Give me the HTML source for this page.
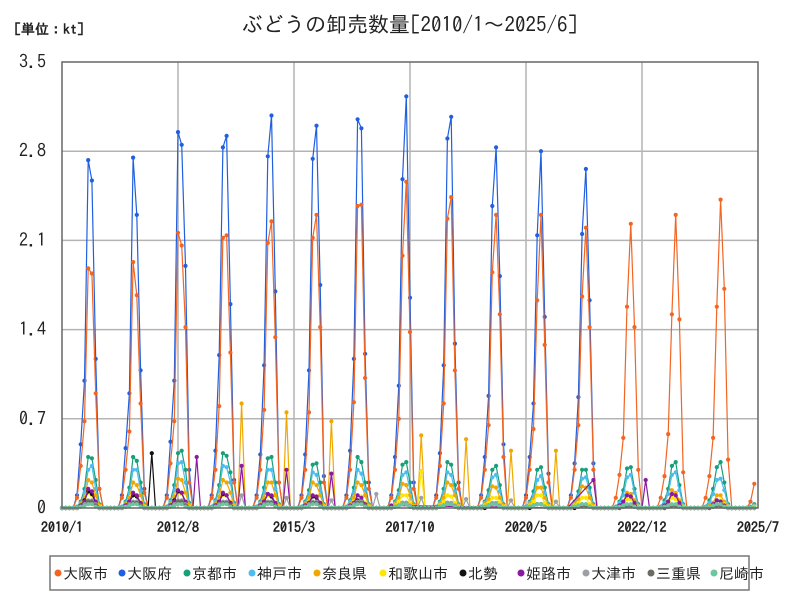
<!DOCTYPE html>
<html><head><meta charset="utf-8">
<style>
body{margin:0;background:#fff;}
svg{display:block;font-family:"IPAGothic","Noto Sans CJK JP",sans-serif;}
</style></head>
<body>
<svg id="chart" width="800" height="600" viewBox="0 0 800 600">
<rect width="800" height="600" fill="#fff"/>
<text x="410" y="32" text-anchor="middle" font-size="21" fill="#222">ぶどうの卸売数量[2010/1～2025/6]</text>
<text x="14" y="34" font-size="14" font-weight="bold" fill="#222">[単位：kt]</text>
<g id="grid"></g>
<g id="series"></g>
<rect x="62" y="62" width="696" height="446" fill="none" stroke="#666" stroke-width="1.5"/>
<g id="legend"></g>
</svg>
<script>
const xTickLabels = ["2010/1","2012/8","2015/3","2017/10","2020/5","2022/12","2025/7"];
const yTickLabels = ["0","0.7","1.4","2.1","2.8","3.5"];
const yTickValues = [0,0.7,1.4,2.1,2.8,3.5];
const seriesNames = ["大阪市","大阪府","京都市","神戸市","奈良県","和歌山市","北勢","姫路市","大津市","三重県","尼崎市"];
const seriesColors = ["#f26522","#1f5fe0","#17a07a","#4dbdf0","#f0a800","#ffe600","#111111","#8b1aa0","#9aa0a6","#6b6b63","#6cc79f"];
// seasonal values May..Nov per year, starting 2010
const osakaShi = [[0.08,0.33,0.68,1.88,1.84,0.9,0.15],[0.08,0.3,0.6,1.93,1.67,0.82,0.12],[0.08,0.35,0.68,2.16,2.06,1.42,0.2],[0.08,0.3,0.8,2.12,2.14,1.22,0.2],[0.08,0.3,0.77,2.08,2.25,1.34,0.2],[0.08,0.3,0.75,2.12,2.3,1.42,0.2],[0.08,0.3,0.83,2.37,2.38,1.02,0.15],[0.08,0.3,0.7,1.98,2.56,1.38,0.15],[0.08,0.33,0.82,2.27,2.44,1.08,0.15],[0.08,0.3,0.65,1.85,2.3,1.52,0.4],[0.08,0.3,0.62,1.63,2.3,1.28,0.2],[0.08,0.3,0.65,1.66,2.2,1.42,0.3],[0.08,0.26,0.55,1.58,2.23,1.42,0.3],[0.08,0.25,0.58,1.52,2.3,1.48,0.28],[0.08,0.25,0.55,1.58,2.42,1.72,0.38],[0.05,0.19]];
const osakaFu = [[0.1,0.5,1.0,2.73,2.57,1.17,0.15],[0.1,0.47,0.9,2.75,2.3,1.08,0.15],[0.1,0.52,1.0,2.95,2.85,1.9,0.3],[0.1,0.45,1.2,2.83,2.92,1.6,0.22],[0.1,0.42,1.12,2.76,3.08,1.7,0.2],[0.1,0.42,1.08,2.74,3.0,1.75,0.25],[0.1,0.45,1.17,3.05,2.98,1.21,0.2],[0.1,0.4,0.96,2.58,3.23,1.65,0.2],[0.1,0.43,1.12,2.9,3.07,1.29,0.2],[0.1,0.4,0.88,2.37,2.83,1.82,0.5],[0.1,0.4,0.82,2.14,2.8,1.5,0.27],[0.1,0.35,0.87,2.15,2.66,1.63,0.35]];
const kyoto = [[0.01,0.05,0.15,0.4,0.39,0.22,0.03],[0.01,0.05,0.16,0.4,0.37,0.2,0.03],[0.01,0.06,0.18,0.43,0.45,0.3,0.04],[0.01,0.06,0.18,0.43,0.41,0.28,0.04],[0.01,0.05,0.16,0.39,0.4,0.2,0.03],[0.01,0.05,0.14,0.34,0.35,0.2,0.03],[0.01,0.06,0.16,0.4,0.36,0.2,0.03],[0.01,0.05,0.14,0.34,0.36,0.2,0.03],[0.01,0.05,0.15,0.36,0.34,0.18,0.03],[0.01,0.05,0.14,0.3,0.33,0.18,0.03],[0.01,0.05,0.13,0.3,0.32,0.16,0.03],[0.01,0.05,0.13,0.3,0.3,0.16,0.03],[0.01,0.05,0.14,0.31,0.32,0.15,0.03],[0.01,0.06,0.15,0.33,0.36,0.18,0.03],[0.01,0.06,0.15,0.32,0.36,0.2,0.03],[0.01,0.03]];
const kobe = [[0.01,0.04,0.12,0.3,0.33,0.15,0.02],[0.01,0.04,0.12,0.3,0.3,0.14,0.02],[0.01,0.05,0.14,0.35,0.36,0.2,0.03],[0.01,0.05,0.14,0.33,0.32,0.2,0.03],[0.01,0.04,0.12,0.3,0.3,0.15,0.02],[0.01,0.04,0.11,0.28,0.26,0.14,0.02],[0.01,0.05,0.12,0.3,0.27,0.14,0.02],[0.01,0.04,0.11,0.26,0.28,0.14,0.02],[0.01,0.04,0.12,0.28,0.26,0.13,0.02],[0.01,0.04,0.1,0.24,0.26,0.13,0.02],[0.01,0.04,0.1,0.22,0.25,0.12,0.02],[0.01,0.04,0.1,0.23,0.24,0.12,0.02],[0.01,0.04,0.1,0.24,0.26,0.12,0.02],[0.01,0.04,0.11,0.26,0.28,0.14,0.02],[0.01,0.04,0.11,0.22,0.23,0.14,0.02],[0.01,0.02]];
const nara = [[0,0.03,0.08,0.22,0.2,0.1,0.02],[0,0.03,0.08,0.2,0.18,0.1,0.02],[0,0.03,0.09,0.23,0.22,0.12,0.02],[0,0.03,0.09,0.22,0.2,0.12,0.02],[0,0.03,0.08,0.2,0.2,0.1,0.02],[0,0.03,0.08,0.2,0.18,0.1,0.02],[0,0.03,0.08,0.2,0.18,0.1,0.02],[0,0.03,0.08,0.19,0.18,0.1,0.02],[0,0.03,0.08,0.2,0.18,0.1,0.02],[0,0.03,0.07,0.17,0.16,0.08,0.02],[0,0.03,0.07,0.16,0.16,0.08,0.02],[0,0.03,0.07,0.17,0.16,0.08,0.02],[0,0.02,0.05,0.12,0.11,0.06,0.01],[0,0.02,0.05,0.14,0.12,0.06,0.01],[0,0.02,0.04,0.1,0.1,0.05,0.01],[0,0.01]];
const naraJan = [0,0,0,0,0.82,0.75,0.68,0,0.57,0.54,0.45,0.45,0,0,0,0];
const wakayama = [[0,0.02,0.06,0.12,0.1,0.05,0.01],[0,0.02,0.05,0.1,0.09,0.04,0.01],[0,0.02,0.06,0.12,0.11,0.05,0.01],[0,0.02,0.05,0.1,0.1,0.05,0.01],[0,0.02,0.05,0.1,0.09,0.04,0.01],[0,0.02,0.05,0.1,0.09,0.04,0.01],[0,0.02,0.05,0.1,0.09,0.04,0.01],[0,0.02,0.05,0.1,0.1,0.04,0.01],[0,0.02,0.05,0.1,0.09,0.04,0.01],[0,0.02,0.04,0.08,0.08,0.04,0.01],[0,0.02,0.05,0.1,0.1,0.04,0.01],[0,0.02,0.04,0.08,0.08,0.03,0.01],[0,0.01,0.04,0.07,0.07,0.03,0.01],[0,0.01,0.04,0.08,0.07,0.03,0.01],[0,0.01,0.03,0.06,0.06,0.03,0.01],[0,0.01]];
const wakayamaJan = [0,0,0,0,0,0,0,0,0.29,0,0,0,0,0,0,0];
const hokusei = [[0,0.02,0.06,0.13,0.11,0.04,0],[0,0.02,0.05,0.1,0.09,0.03,0],[0,0.02,0.06,0.13,0.12,0.04,0],[0,0.02,0.05,0.11,0.1,0.04,0],[0,0.02,0.05,0.11,0.09,0.03,0],[0,0.02,0.04,0.09,0.08,0.03,0],[0,0.01,0.03,0.06,0.05,0.02,0],[0,0.01,0.02,0.04,0.04,0.01,0],[0,0.01,0.02,0.04,0.03,0.01,0],[0,0,0.02,0.03,0.03,0.01,0],[0,0,0.02,0.03,0.03,0.01,0],[0,0,0.01,0.02,0.02,0.01,0],[0,0,0.01,0.02,0.02,0.01,0],[0,0,0.01,0.02,0.02,0.01,0],[0,0,0.01,0.02,0.02,0.01,0],[0,0]];
const hokuseiJan = [0,0,0.43,0,0,0,0,0,0,0,0,0,0,0,0,0];
const himeji = [[0,0.02,0.05,0.15,0.13,0.05,0],[0,0.02,0.05,0.12,0.1,0.04,0],[0,0.02,0.05,0.14,0.12,0.05,0],[0,0.02,0.05,0.12,0.1,0.04,0],[0,0.02,0.05,0.11,0.1,0.04,0],[0,0.02,0.04,0.1,0.09,0.04,0],[0,0.02,0.04,0.1,0.08,0.03,0],[0.02],[],[],[],[null,null,null,null,null,null,0.22],[0,0.02,0.05,0.1,0.09,0.04,0],[0,0.02,0.05,0.11,0.1,0.04,0],[0,0.01,0.03,0.06,0.05,0.02,0],[0,0]];
const himejiJan = [0,0,0,0.4,0.33,0.3,0.27,0,null,null,null,null,0,0.22,0,0];
const otsu = [[0,0.01,0.03,0.06,0.06,0.03,0],[0,0.01,0.03,0.05,0.05,0.02,0],[0,0.01,0.03,0.06,0.06,0.03,0],[0,0.01,0.03,0.05,0.05,0.02,0],[0,0.01,0.03,0.05,0.05,0.02,0],[0,0.01,0.03,0.05,0.05,0.02,0],[0,0.01,0.03,0.05,0.05,0.02,0],[0,0.01,0.02,0.04,0.04,0.02,0],[0,0.01,0.02,0.04,0.04,0.02,0],[0,0.01,0.02,0.04,0.04,0.02,0],[0,0.01,0.02,0.03,0.03,0.01,0],[0,0.01,0.02,0.03,0.03,0.01,0],[0,0,0.01,0.02,0.02,0.01,0],[0,0,0.01,0.02,0.02,0.01,0],[0,0,0.01,0.02,0.02,0.01,0],[0,0]];
const otsuJan = [0,0,0,0,0.1,0.08,0.06,0.11,0.08,0.07,0.06,0.05,0,0,0,0];
const mie = [[0,0.01,0.02,0.05,0.05,0.02,0],[0,0.01,0.02,0.04,0.04,0.02,0],[0,0.01,0.02,0.05,0.05,0.02,0],[0,0.01,0.02,0.04,0.04,0.02,0],[0,0.01,0.02,0.04,0.04,0.02,0],[0,0.01,0.02,0.04,0.04,0.02,0],[0,0.01,0.02,0.04,0.04,0.02,0],[0,0.01,0.02,0.03,0.03,0.01,0],[0,0.01,0.02,0.03,0.03,0.01,0],[0,0.01,0.02,0.03,0.03,0.01,0],[0,0.01,0.02,0.03,0.03,0.01,0],[0,0.01,0.01,0.02,0.02,0.01,0],[0,0,0.01,0.02,0.02,0.01,0],[0,0,0.01,0.02,0.02,0.01,0],[0,0,0.01,0.02,0.02,0.01,0],[0,0]];
const amagasaki = [[0,0.01,0.02,0.03,0.03,0.01,0],[0,0.01,0.02,0.03,0.03,0.01,0],[0,0.01,0.02,0.03,0.03,0.01,0],[0,0.01,0.02,0.03,0.03,0.01,0],[0,0.01,0.02,0.03,0.03,0.01,0],[0,0.01,0.02,0.03,0.03,0.01,0],[0,0.01,0.02,0.03,0.03,0.01,0],[0,0.01,0.02,0.03,0.03,0.01,0],[0,0.01,0.02,0.03,0.03,0.01,0],[0,0.01,0.02,0.03,0.03,0.01,0],[0,0.01,0.02,0.03,0.03,0.01,0],[0,0.01,0.02,0.03,0.03,0.01,0],[0,0.01,0.02,0.03,0.03,0.01,0],[0,0.01,0.02,0.03,0.03,0.01,0],[0,0.01,0.02,0.03,0.03,0.01,0],[0,0]];

const NS = "http://www.w3.org/2000/svg";
const X0 = 62, X1 = 758, Y0 = 508, Y1 = 62, NMONTHS = 186, YMAX = 3.5;
function xScale(i){ return X0 + (X1 - X0) * i / NMONTHS; }
function yScale(v){ return Y0 - (Y0 - Y1) * v / YMAX; }

function buildMonthly(season, janArr, fillBlank){
  const out = [];
  for(let m=0;m<NMONTHS;m++){
    const y = Math.floor(m/12), mo = m%12;
    const yr = season[y];
    if(yr === undefined){ out.push(null); continue; }
    let v = fillBlank;
    if(yr.length === 0) v = null;
    if(mo === 0 && janArr) v = janArr[y];
    if(mo >= 4 && mo - 4 < yr.length) v = yr[mo-4];
    else if(mo >= 4 && yr.length === 1) v = null;
    out.push(v);
  }
  return out;
}

const grid = document.getElementById('grid');
yTickValues.forEach((v,i)=>{
  const y = yScale(v);
  if(v>0 && v<YMAX){
    const l = document.createElementNS(NS,'line');
    l.setAttribute('x1',X0);l.setAttribute('x2',X1);l.setAttribute('y1',y);l.setAttribute('y2',y);
    l.setAttribute('stroke','#b4b4b4');l.setAttribute('stroke-width','1.5');
    
    
    grid.appendChild(l);
  }
  const t = document.createElementNS(NS,'text');
  t.setAttribute('x',46);t.setAttribute('y',y+6);t.setAttribute('text-anchor','end');
  t.setAttribute('font-size','18');t.setAttribute('fill','#222');
  t.textContent = yTickLabels[i];
  
  
  grid.appendChild(t);
});
xTickLabels.forEach((lab,i)=>{
  const x = xScale(i*31);
  if(i>0 && i<xTickLabels.length-1){
    const l = document.createElementNS(NS,'line');
    l.setAttribute('x1',x);l.setAttribute('x2',x);l.setAttribute('y1',Y1);l.setAttribute('y2',Y0);
    l.setAttribute('stroke','#b4b4b4');l.setAttribute('stroke-width','1.5');
    
    
    grid.appendChild(l);
  }
  const t = document.createElementNS(NS,'text');
  t.setAttribute('x',x);t.setAttribute('y',532);t.setAttribute('text-anchor','middle');
  t.setAttribute('font-size','14');t.setAttribute('font-weight','bold');t.setAttribute('fill','#222');
  t.textContent = lab;
  
  
  grid.appendChild(t);
});

const allData = [
  buildMonthly(osakaShi,null,0),
  buildMonthly(osakaFu,null,0),
  buildMonthly(kyoto,null,0),
  buildMonthly(kobe,null,0),
  buildMonthly(nara,naraJan,0),
  buildMonthly(wakayama,wakayamaJan,0),
  buildMonthly(hokusei,hokuseiJan,0),
  buildMonthly(himeji,himejiJan,0),
  buildMonthly(otsu,otsuJan,0),
  buildMonthly(mie,null,0),
  buildMonthly(amagasaki,null,0)
];
const sg = document.getElementById('series');
const drawOrder = [1,0,2,3,4,5,6,7,8,9,10];
drawOrder.forEach(si=>{
  const data = allData[si], col = seriesColors[si];
  const g = document.createElementNS(NS,'g');
  
  
  let d = '';
  data.forEach((v,i)=>{ if(v===null) return; d += (d?'L':'M') + xScale(i).toFixed(1) + ' ' + yScale(v).toFixed(1); });
  const p = document.createElementNS(NS,'path');
  p.setAttribute('d',d);p.setAttribute('fill','none');p.setAttribute('stroke',col);p.setAttribute('stroke-width','1.2');
  
  
  g.appendChild(p);
  data.forEach((v,i)=>{
    if(v===null) return;
    const c = document.createElementNS(NS,'circle');
    c.setAttribute('cx',xScale(i).toFixed(1));c.setAttribute('cy',yScale(v).toFixed(1));c.setAttribute('r','2.1');c.setAttribute('fill',col);
    
    
    g.appendChild(c);
  });
  sg.appendChild(g);
});

const lg = document.getElementById('legend');
const box = document.createElementNS(NS,'rect');
box.setAttribute('x',50);box.setAttribute('y',556);box.setAttribute('width',699);box.setAttribute('height',34);
box.setAttribute('fill','#fff');box.setAttribute('stroke','#777');box.setAttribute('stroke-width','1.5');


lg.appendChild(box);
const legX = [54,118,183,248,313,379,459,517,582,647,710];
seriesNames.forEach((n,i)=>{
  const x = legX[i];
  const c = document.createElementNS(NS,'circle');
  c.setAttribute('cx',x+4);c.setAttribute('cy',573);c.setAttribute('r','3.5');c.setAttribute('fill',seriesColors[i]);
  
  
  lg.appendChild(c);
  const t = document.createElementNS(NS,'text');
  t.setAttribute('x',x+9);t.setAttribute('y',579);t.setAttribute('font-size','15');t.setAttribute('fill','#222');
  t.textContent = n;
  
  
  lg.appendChild(t);
});
</script>
</body></html>
